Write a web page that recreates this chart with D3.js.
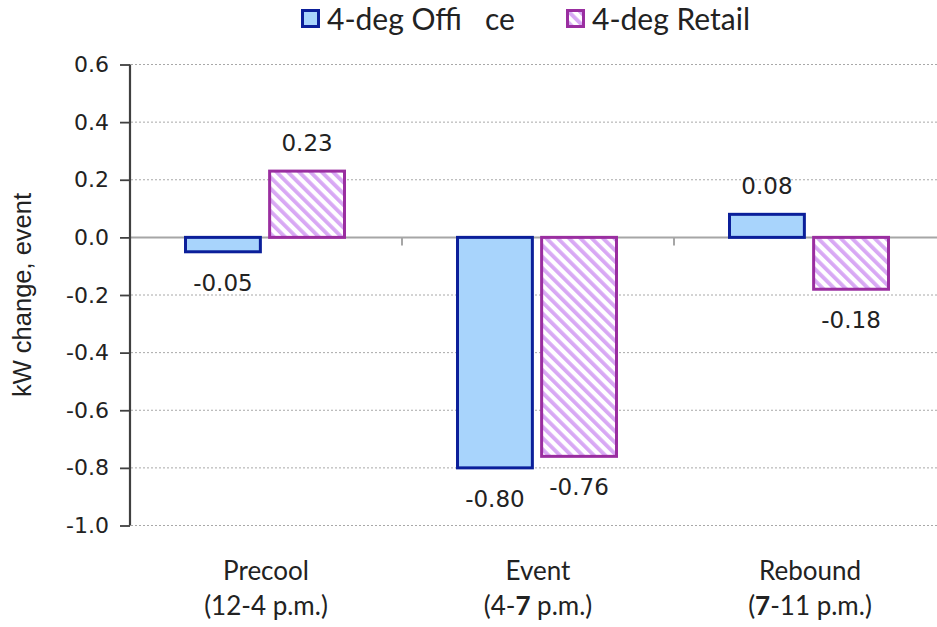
<!DOCTYPE html>
<html><head><meta charset="utf-8">
<script src="https://cdn.jsdelivr.net/npm/d3@7/dist/d3.min.js"></script>
<style>body{margin:0;background:#fff}svg{display:block}</style>
</head><body>
<svg id="c" width="937" height="627"></svg>
<script>
const categories = ["Precool", "Event", "Rebound"];
const categorySub = [["(12-4 p.m.)"], ["(4-", "7", " p.m.)"], ["(", "7", "-11 p.m.)"]];
const seriesNames = ["4-deg Offi   ce", "4-deg Retail"];
const office = [-0.05, -0.80, 0.08];
const retail = [0.23, -0.76, -0.18];
const valueLabels = [["-0.05", "-0.80", "0.08"], ["0.23", "-0.76", "-0.18"]];
const yTicks = [0.6, 0.4, 0.2, 0.0, -0.2, -0.4, -0.6, -0.8, -1.0];

const svg = d3.select("#c");
const defs = svg.append("defs");
const pat = defs.append("pattern").attr("id", "hatch").attr("patternUnits", "userSpaceOnUse")
  .attr("width", 8).attr("height", 8).attr("patternTransform", "rotate(-45)");
pat.append("rect").attr("width", 8).attr("height", 8).attr("fill", "#fff");
pat.append("rect").attr("width", 3.8).attr("height", 8).attr("fill", "#d8a8f4");

const x0 = d3.scaleBand().domain(categories).range([130, 946]).padding(0);
const x1 = d3.scaleBand().domain(seriesNames).range([55.5, 214.5]).paddingInner(0.11);
const y = d3.scaleLinear().domain([-1, 0.6]).range([525.5, 64.5]);

// gridlines
svg.append("g").selectAll("line").data(yTicks.filter(d => d !== 0)).join("line")
  .attr("x1", 131).attr("x2", 946).attr("y1", d => y(d)).attr("y2", d => y(d))
  .attr("stroke", "#a8a8a8").attr("stroke-width", 1).attr("stroke-dasharray", "2,2");

// zero line + category ticks
svg.append("line").attr("x1", 130).attr("x2", 946).attr("y1", y(0)).attr("y2", y(0))
  .attr("stroke", "#a6a6a6").attr("stroke-width", 2);
svg.append("g").selectAll("line").data(categories.slice(1)).join("line")
  .attr("x1", d => x0(d)).attr("x2", d => x0(d)).attr("y1", y(0)).attr("y2", y(0) + 8)
  .attr("stroke", "#a6a6a6").attr("stroke-width", 2);

// y axis
const yAxis = d3.axisLeft(y).tickValues(yTicks).tickFormat(d3.format(".1f")).tickSize(10).tickPadding(11);
const ya = svg.append("g").attr("transform", "translate(130,0)").call(yAxis);
ya.select(".domain").attr("stroke", "#404040").attr("stroke-width", 2.2).attr("d", `M0,${y(0.6)}V${y(-1)}`);
ya.selectAll(".tick line").attr("stroke", "#404040").attr("stroke-width", 1.8);
ya.selectAll(".tick text").attr("font-family", "DejaVu Sans").attr("font-size", 22).attr("fill", "#222")
  .text(d => d3.format(".1f")(d).replace("−", "-"));

// y title
svg.append("text").attr("transform", `translate(31,${y(-0.2)}) rotate(-90)`)
  .attr("text-anchor", "middle").attr("font-family", "Liberation Sans").attr("font-size", 25.5)
  .attr("fill", "#222").text("kW change, event");

// bars
const series = [
  {name: seriesNames[0], values: office, fill: "#a8d4fc", stroke: "#0b1f9a"},
  {name: seriesNames[1], values: retail, fill: "url(#hatch)", stroke: "#9a2ea0"}
];
series.forEach((s, si) => {
  const g = svg.append("g");
  g.selectAll("rect").data(s.values).join("rect")
    .attr("x", (d, i) => x0(categories[i]) + x1(s.name))
    .attr("width", x1.bandwidth())
    .attr("y", d => y(Math.max(0, d)))
    .attr("height", d => Math.abs(y(d) - y(0)))
    .attr("fill", s.fill).attr("stroke", s.stroke).attr("stroke-width", 3);
  g.selectAll("text").data(s.values).join("text")
    .attr("x", (d, i) => x0(categories[i]) + x1(s.name) + x1.bandwidth() / 2)
    .attr("y", d => d >= 0 ? y(d) - 20 : y(d) + 39)
    .attr("text-anchor", "middle").attr("font-family", "DejaVu Sans").attr("font-size", 23)
    .attr("fill", "#222").text((d, i) => valueLabels[si][i]);
});

// x labels
const xl = svg.append("g");
categories.forEach((c, i) => {
  const cx = x0(c) + x0.bandwidth() / 2;
  xl.append("text").attr("x", cx).attr("y", 580).attr("text-anchor", "middle")
    .attr("font-family", "Lato").attr("font-size", 26).attr("fill", "#222").text(c);
  const t = xl.append("text").attr("x", cx).attr("y", 615).attr("text-anchor", "middle")
    .attr("font-family", "Lato").attr("font-size", 26).attr("fill", "#222");
  categorySub[i].forEach(p => t.append("tspan").attr("font-weight", p === "7" ? "bold" : null).text(p));
});

// legend
const lg = svg.append("g");
const legendX = [301, 566];
series.forEach((s, i) => {
  lg.append("rect").attr("x", legendX[i] + 1.5).attr("y", 10.5).attr("width", 16).attr("height", 16)
    .attr("fill", s.fill).attr("stroke", s.stroke).attr("stroke-width", 3);
  lg.append("text").attr("x", legendX[i] + 26).attr("y", 30).attr("font-family", "Lato")
    .attr("font-size", 30).attr("fill", "#222").attr("xml:space", "preserve")
    .style("white-space", "pre").text(s.name);
});
</script>
</body></html>
